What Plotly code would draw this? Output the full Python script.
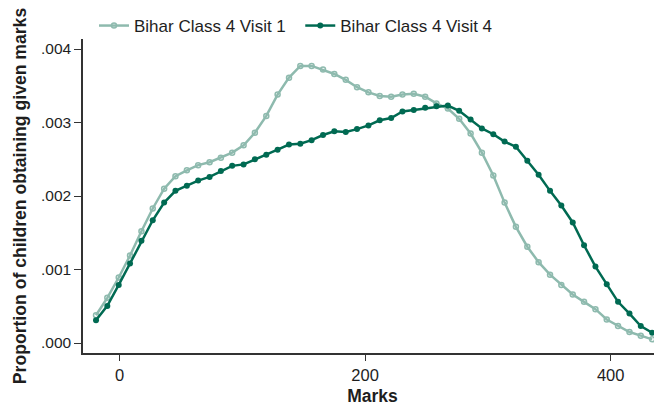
import plotly.graph_objects as go

marks = [-19.2, -10.0, -0.7, 8.5, 17.8, 27.0, 36.3, 45.5, 54.8, 64.0,
         73.3, 82.5, 91.7, 101.0, 110.2, 119.5, 128.7, 138.0, 147.2, 156.4,
         165.7, 174.9, 184.2, 193.4, 202.7, 211.9, 221.2, 230.4, 239.6, 248.9,
         258.1, 267.4, 276.6, 285.9, 295.1, 304.4, 313.6, 322.8, 332.1, 341.3,
         350.6, 359.8, 369.1, 378.3, 387.6, 396.8, 406.0, 415.3, 424.5, 433.8]

visit1 = [0.000378, 0.000614, 0.000891, 0.00119, 0.00152, 0.00183, 0.00210, 0.00227, 0.00235, 0.00242,
          0.00246, 0.00252, 0.00259, 0.00269, 0.00286, 0.00309, 0.00338, 0.00361, 0.00377, 0.00377,
          0.00372, 0.00366, 0.00358, 0.00348, 0.00341, 0.00336, 0.00335, 0.00338, 0.00339, 0.00335,
          0.00326, 0.00319, 0.00305, 0.00285, 0.00259, 0.00228, 0.00191, 0.00158, 0.00131, 0.00110,
          0.00093, 0.00079, 0.00066, 0.00056, 0.00046, 0.00032, 0.00023, 0.00015, 0.00010, 0.00005]

visit4 = [0.00031, 0.000505, 0.00079, 0.00108, 0.00139, 0.00167, 0.00191, 0.00207, 0.00214, 0.00221,
          0.00226, 0.00234, 0.00241, 0.00243, 0.00250, 0.00256, 0.00263, 0.00270, 0.00271, 0.00276,
          0.00283, 0.00288, 0.00287, 0.00291, 0.00296, 0.00303, 0.00306, 0.00315, 0.00317, 0.00320,
          0.00322, 0.00323, 0.00316, 0.00304, 0.00292, 0.00284, 0.00274, 0.00267, 0.00248, 0.00229,
          0.00207, 0.00187, 0.00164, 0.00133, 0.00104, 0.00080, 0.00056, 0.00040, 0.00023, 0.00014]

x_ticks = [0, 200, 400]
y_ticks = [0.000, 0.001, 0.002, 0.003, 0.004]
y_labels = [".000", ".001", ".002", ".003", ".004"]
series_names = ["Bihar Class 4 Visit 1", "Bihar Class 4 Visit 4"]

LIGHT = "#8ebaae"
DARK = "#006a52"
FONT = "Liberation Sans, Arial, sans-serif"
TXT = "#1e1e1e"

fig = go.Figure()
fig.add_trace(go.Scatter(
    x=marks, y=visit1, mode="lines+markers", name=series_names[0] + "\u00a0\u00a0",
    line=dict(color=LIGHT, width=2.5),
    marker=dict(symbol="circle-open", size=5, color=LIGHT, line=dict(width=1.5, color=LIGHT)),
))
fig.add_trace(go.Scatter(
    x=marks, y=visit4, mode="lines+markers", name=series_names[1],
    line=dict(color=DARK, width=2.5),
    marker=dict(symbol="circle", size=6, color=DARK),
))

# page body has an 8px default margin, so the figure is sized/offset to compensate
fig.update_layout(
    width=654, height=398,
    margin=dict(l=75, r=0, t=31, b=53),
    paper_bgcolor="white", plot_bgcolor="white",
    font=dict(family=FONT, size=16, color=TXT),
    showlegend=True,
    legend=dict(orientation="h", x=0.019, xanchor="left", y=0.985, yanchor="bottom",
                font=dict(size=17, color=TXT), tracegroupgap=0,
                bgcolor="rgba(0,0,0,0)"),
    xaxis=dict(range=[-29.8, 441.8], tickvals=x_ticks, showgrid=False, zeroline=False,
               showline=True, linecolor="#333333", linewidth=1.5,
               ticks="outside", ticklen=6, tickcolor="#333333", automargin=False,
               tickfont=dict(size=16.5),
               title=dict(text="<b>Marks</b>", font=dict(size=17.5), standoff=8)),
    yaxis=dict(range=[-0.000136, 0.004136], tickvals=y_ticks, ticktext=y_labels,
               showgrid=False, zeroline=False, automargin=False,
               showline=True, linecolor="#333333", linewidth=1.5,
               ticks="outside", ticklen=7, tickcolor="#333333",
               tickfont=dict(size=15.5),
               title=dict(text="<b>Proportion of children obtaining given marks</b>",
                          font=dict(size=17.6), standoff=10)),
)

fig.write_html("out.html")
